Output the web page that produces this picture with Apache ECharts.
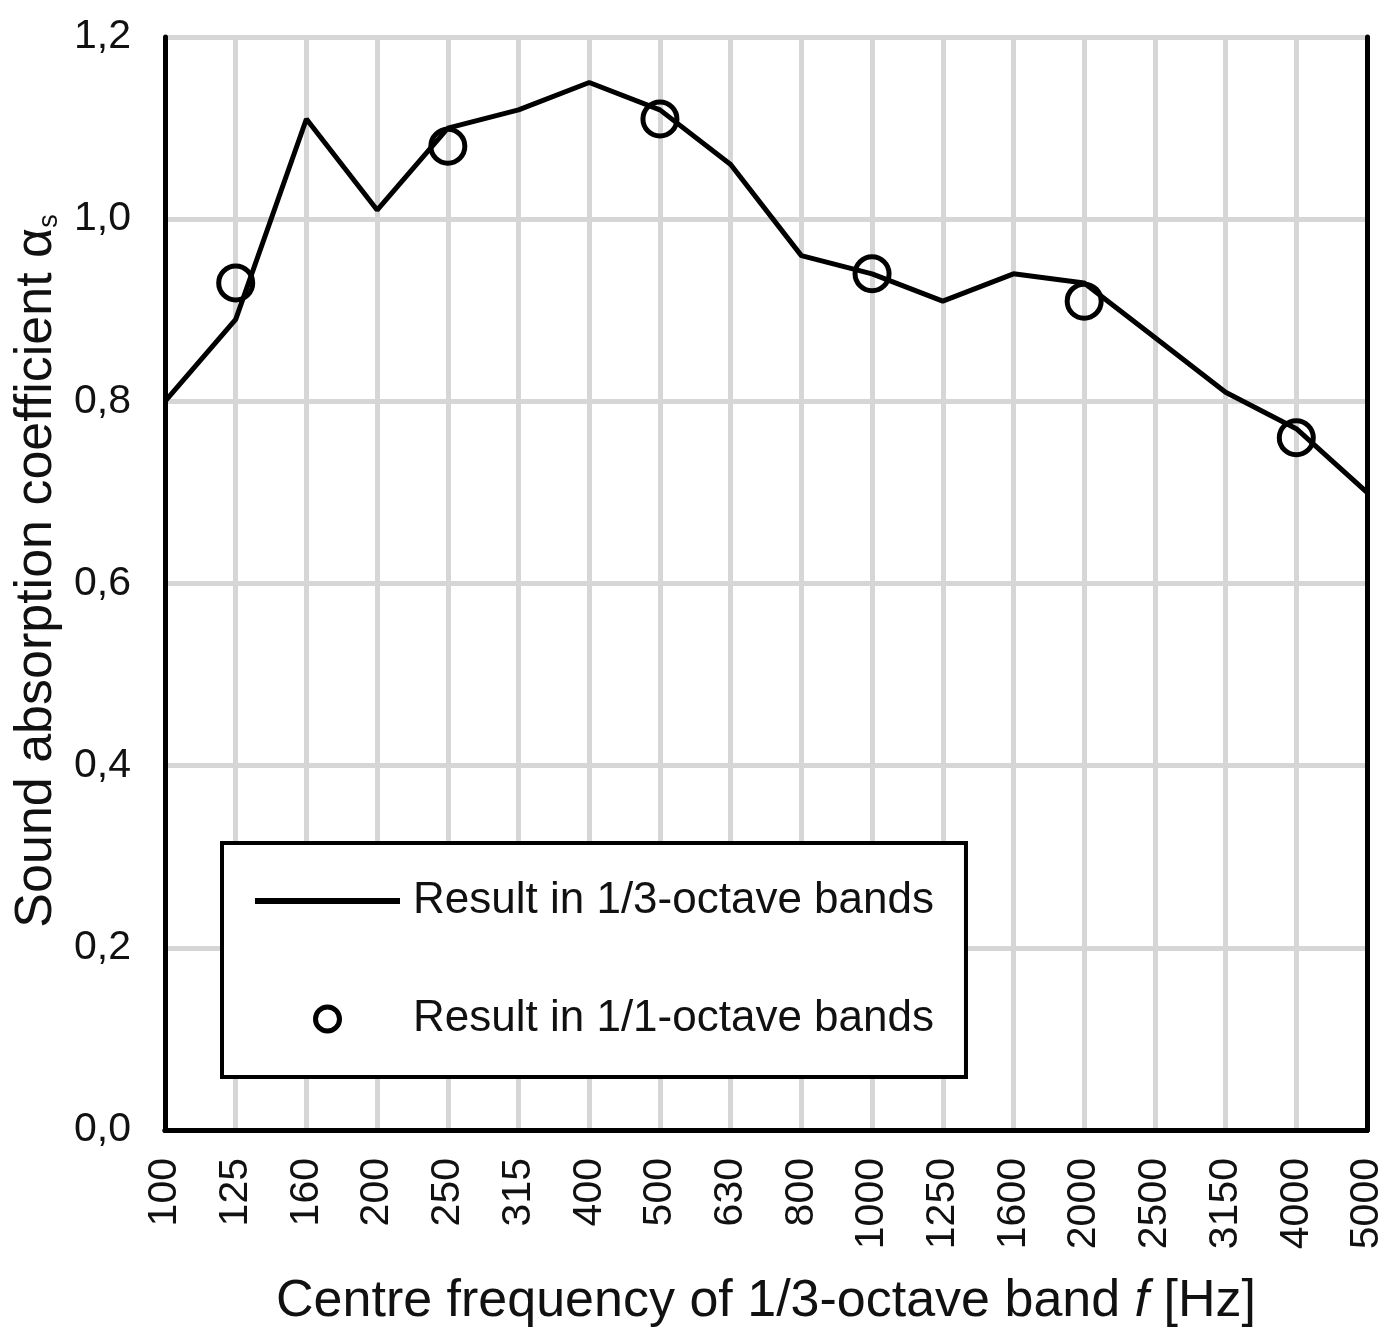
<!DOCTYPE html>
<html>
<head>
<meta charset="utf-8">
<script src="https://cdn.jsdelivr.net/npm/echarts@6/dist/echarts.min.js"></script>
<style>
html,body{margin:0;padding:0;background:#fff;}
#chart{width:1394px;height:1337px;}
</style>
</head>
<body>
<div id="chart"></div>
<script>
var categories = ['100','125','160','200','250','315','400','500','630','800','1000','1250','1600','2000','2500','3150','4000','5000'];
var thirdOctave = [0.80,0.89,1.11,1.01,1.10,1.12,1.15,1.12,1.06,0.96,0.94,0.91,0.94,0.93,0.87,0.81,0.77,0.70];
var octaveBands = ['125','250','500','1000','2000','4000'];
var octaveValues = [0.93,1.08,1.11,0.94,0.91,0.76];
var yTicks = [0,0.2,0.4,0.6,0.8,1.0,1.2];

var FONT = '"Liberation Sans", Arial, sans-serif';
var chart = echarts.init(document.getElementById('chart'), null, {renderer:'canvas'});

var octaveData = octaveBands.map(function(c,i){ return [c, octaveValues[i]]; });

var option = {
  backgroundColor:'#fff',
  animation:false,
  textStyle:{fontFamily:FONT,color:'#111'},
  grid:{left:165,right:27,top:37,bottom:207,containLabel:false,outerBoundsMode:'none'},
  legend:{
    orient:'vertical',
    left:222, top:843,
    backgroundColor:'#fff',
    borderColor:'#000', borderWidth:4, borderRadius:0,
    padding:[36,32,36,30],
    itemGap:74,
    itemWidth:145, itemHeight:24,
    textStyle:{fontFamily:FONT,fontSize:44,color:'#111',padding:[0,0,0,8]},
    data:[
      {name:'Result in 1/3-octave bands', lineStyle:{width:6,color:'#000'}, itemStyle:{opacity:0}},
      {name:'Result in 1/1-octave bands', icon:'circle', itemStyle:{color:'#fff',borderColor:'#000',borderWidth:5,opacity:1}}
    ]
  },
  xAxis:[{
    type:'category',
    data:categories,
    boundaryGap:false,
    axisLine:{show:true,lineStyle:{color:'#000',width:5}},
    axisTick:{show:false},
    splitLine:{show:true,lineStyle:{color:'#d6d6d6',width:5}},
    axisLabel:{rotate:90,fontSize:41,color:'#111',fontFamily:FONT,margin:28,interval:0},
    name:'Centre frequency of 1/3-octave band {i|f} [Hz]',
    nameLocation:'middle',
    nameGap:146,
    nameTextStyle:{fontSize:52,color:'#111',fontFamily:FONT,rich:{i:{fontSize:52,fontStyle:'italic',fontFamily:FONT,color:'#111'}}}
  },{
    type:'category', position:'top', data:categories, boundaryGap:false,
    axisLine:{show:true,lineStyle:{color:'#000',width:5}},
    axisTick:{show:false}, axisLabel:{show:false}, splitLine:{show:false}
  }],
  yAxis:[{
    type:'value',
    min:0,max:1.2,interval:0.2,
    axisLine:{show:true,lineStyle:{color:'#000',width:5}},
    axisTick:{show:false},
    splitLine:{show:true,lineStyle:{color:'#d6d6d6',width:5}},
    axisLabel:{fontSize:41,color:'#111',fontFamily:FONT,margin:34,
      formatter:function(v){ return v.toFixed(1).replace('.',','); }},
    name:'Sound absorption coefficient {a|α}{s|s}',
    nameLocation:'middle',
    nameRotate:90,
    nameGap:102,
    nameTextStyle:{fontSize:52,color:'#111',fontFamily:FONT,padding:[0,0,0,25],
      rich:{a:{fontSize:52,fontFamily:FONT,color:'#111'},
            s:{fontSize:27,fontFamily:FONT,color:'#111',verticalAlign:'bottom',padding:[20,0,0,0]}}}
  },{
    type:'value', position:'right', min:0,max:1.2,interval:0.2,
    axisLine:{show:true,lineStyle:{color:'#000',width:5}},
    axisTick:{show:false}, axisLabel:{show:false}, splitLine:{show:false}
  }],
  series:[{
    name:'Result in 1/3-octave bands',
    type:'line',
    data:thirdOctave,
    symbol:'none',
    lineStyle:{color:'#000',width:5},
    itemStyle:{color:'#000'},
    z:3
  },{
    name:'Result in 1/1-octave bands',
    type:'scatter',
    data:octaveData,
    symbol:'circle',
    symbolSize:34,
    itemStyle:{color:'rgba(0,0,0,0)',borderColor:'#000',borderWidth:5,opacity:1},
    z:4
  }]
};
chart.setOption(option);
</script>
</body>
</html>
